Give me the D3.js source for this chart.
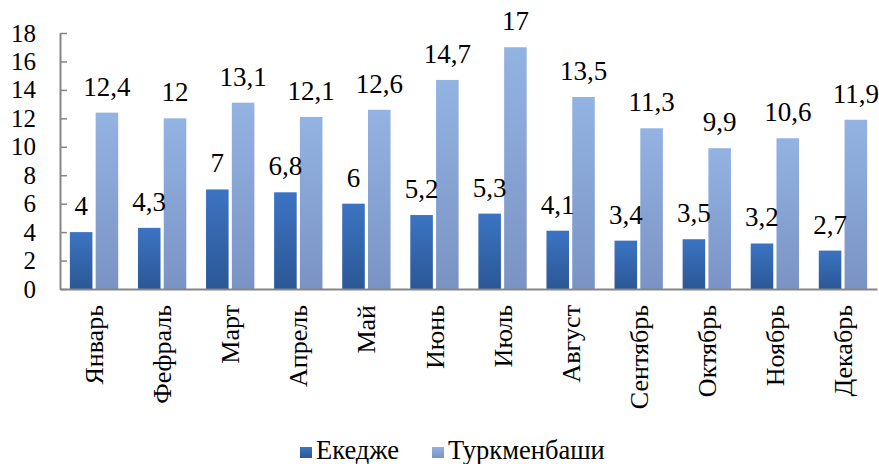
<!DOCTYPE html>
<html>
<head>
<meta charset="utf-8">
<script src="https://cdn.jsdelivr.net/npm/d3@7"></script>
<style>
  body { margin: 0; background: #fff; }
</style>
</head>
<body>
<div id="chart"></div>
<script>
// data
var months = ["Январь", "Фефраль", "Март", "Апрель", "Май", "Июнь", "Июль", "Август", "Сентябрь", "Октябрь", "Ноябрь", "Декабрь"];
var ekedzhe = [4, 4.3, 7, 6.8, 6, 5.2, 5.3, 4.1, 3.4, 3.5, 3.2, 2.7];
var turkmenbashi = [12.4, 12, 13.1, 12.1, 12.6, 14.7, 17, 13.5, 11.3, 9.9, 10.6, 11.9];
var seriesNames = ["Екедже", "Туркменбаши"];
var yTicks = [0, 2, 4, 6, 8, 10, 12, 14, 16, 18];

var FONT = "'Liberation Serif'";
var W = 879, H = 464;
var margin = {top: 33, right: 2, bottom: 175, left: 60};
var width = W - margin.left - margin.right,
    height = H - margin.top - margin.bottom;

var svg = d3.select("#chart").append("svg")
  .attr("width", W).attr("height", H);

var defs = svg.append("defs");
function grad(id, top, bottom) {
  var g = defs.append("linearGradient").attr("id", id)
    .attr("x1", 0).attr("y1", 0).attr("x2", 0).attr("y2", 1);
  g.append("stop").attr("offset", "0%").attr("stop-color", top);
  g.append("stop").attr("offset", "100%").attr("stop-color", bottom);
}
grad("g0", "#3C73C2", "#2B5896");
grad("g1", "#93B3E3", "#7A93C4");

var g = svg.append("g")
  .attr("transform", "translate(" + margin.left + "," + margin.top + ")");

var x = d3.scaleBand().domain(months).range([0, width]).paddingInner(0.29).paddingOuter(0.145);
var x1 = d3.scaleBand().domain(seriesNames).range([0, x.bandwidth()]).paddingInner(0.125);
var y = d3.scaleLinear().domain([0, 18]).range([height, 0]);

var rows = months.map(function(m, i) { return {m: m, v: [ekedzhe[i], turkmenbashi[i]]}; });

var groups = g.selectAll(".grp").data(rows).enter().append("g")
  .attr("transform", function(d) { return "translate(" + x(d.m) + ",0)"; });

groups.selectAll("rect").data(function(d) { return d.v.map(function(v, j) { return {v: v, s: seriesNames[j], j: j}; }); })
  .enter().append("rect")
  .attr("x", function(d) { return x1(d.s); })
  .attr("y", function(d) { return y(d.v); })
  .attr("width", x1.bandwidth())
  .attr("height", function(d) { return height - y(d.v); })
  .attr("fill", function(d) { return "url(#g" + d.j + ")"; });

groups.selectAll(".lbl").data(function(d) { return d.v.map(function(v, j) { return {v: v, s: seriesNames[j]}; }); })
  .enter().append("text")
  .attr("x", function(d) { return x1(d.s) + x1.bandwidth() / 2; })
  .attr("y", function(d) { return y(d.v) - 17; })
  .attr("text-anchor", "middle")
  .style("font-family", FONT)
  .style("font-size", "27px")
  .text(function(d) { return String(d.v).replace(".", ","); });

// y axis, ticks point inward
var yAxis = g.append("g").call(d3.axisLeft(y).tickValues(yTicks).tickSizeInner(-7).tickSizeOuter(0).tickPadding(24));
yAxis.attr("font-family", null);
yAxis.select(".domain").attr("stroke", "#868686").attr("stroke-width", 2);
yAxis.selectAll(".tick line").attr("stroke", "#868686").attr("stroke-width", 1.5);
yAxis.selectAll("text").style("font-family", FONT).style("font-size", "25px").attr("fill", "#000");

// x axis
var xAxis = g.append("g").attr("transform", "translate(0," + height + ")")
  .call(d3.axisBottom(x).tickSize(0).tickPadding(0));
xAxis.attr("font-family", null);
xAxis.select(".domain").attr("stroke", "#868686").attr("stroke-width", 2);
xAxis.selectAll("text")
  .style("font-family", FONT)
  .style("font-size", "26px").attr("fill", "#000")
  .attr("text-anchor", "end")
  .attr("dy", "0.35em")
  .attr("transform", "translate(0,16) rotate(-90)")
  .attr("x", 0).attr("y", 0);

// legend
var legend = svg.append("g");
var lx = [300, 432];
seriesNames.forEach(function(s, i) {
  legend.append("rect").attr("x", lx[i]).attr("y", 447).attr("width", 12).attr("height", 11)
    .attr("fill", "url(#g" + i + ")");
  legend.append("text").attr("x", lx[i] + 16).attr("y", 459)
    .style("font-family", FONT)
    .style("font-size", "26.5px").text(s);
});
</script>
</body>
</html>
